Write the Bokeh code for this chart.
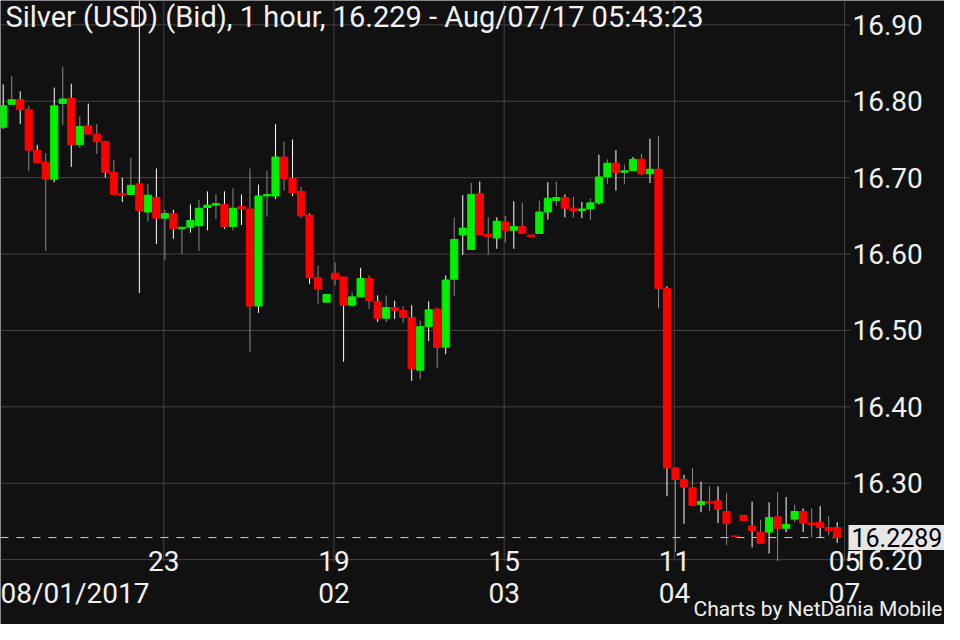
from bokeh.plotting import figure
from bokeh.models import (Range1d, LinearAxis, FixedTicker, NumeralTickFormatter,
                          Label, ColumnDataSource)
from bokeh.embed import file_html
from bokeh.resources import INLINE

# ---------------- data (hourly candles, Silver USD bid) ----------------
opens = [16.766, 16.796, 16.802, 16.789, 16.736, 16.720, 16.698, 16.797, 16.804, 16.743,
         16.768, 16.757, 16.747, 16.707, 16.679, 16.678, 16.692, 16.655, 16.674, 16.647,
         16.653, 16.633, 16.635, 16.637, 16.661, 16.664, 16.665, 16.636, 16.662, 16.659,
         16.532, 16.676, 16.676, 16.727, 16.699, 16.682, 16.651, 16.569, 16.537, 16.575,
         16.570, 16.533, 16.544, 16.568, 16.538, 16.516, 16.530, 16.526, 16.517, 16.448,
         16.505, 16.528, 16.478, 16.567, 16.625, 16.606, 16.679, 16.626, 16.621, 16.642,
         16.631, 16.636, 16.625, 16.627, 16.655, 16.670, 16.674, 16.660, 16.657, 16.659,
         16.667, 16.701, 16.719, 16.707, 16.709, 16.724, 16.705, 16.711, 16.555, 16.320,
         16.305, 16.294, 16.272, 16.276, 16.277, 16.263, 16.231, 16.258, 16.244, 16.236,
         16.236, 16.256, 16.241, 16.253, 16.263, 16.248, 16.249, 16.242, 16.242]
highs = [16.822, 16.833, 16.813, 16.794, 16.743, 16.732, 16.818, 16.845, 16.823, 16.780,
         16.797, 16.770, 16.748, 16.723, 16.700, 16.726, 16.950, 16.692, 16.712, 16.658,
         16.658, 16.636, 16.665, 16.671, 16.682, 16.678, 16.682, 16.686, 16.678, 16.712,
         16.691, 16.709, 16.770, 16.747, 16.750, 16.688, 16.653, 16.585, 16.547, 16.589,
         16.570, 16.550, 16.582, 16.572, 16.546, 16.546, 16.539, 16.532, 16.533, 16.513,
         16.538, 16.530, 16.572, 16.648, 16.677, 16.693, 16.695, 16.648, 16.648, 16.650,
         16.669, 16.667, 16.625, 16.670, 16.694, 16.695, 16.678, 16.675, 16.668, 16.673,
         16.730, 16.724, 16.736, 16.717, 16.727, 16.731, 16.751, 16.755, 16.558, 16.320,
         16.311, 16.320, 16.302, 16.296, 16.296, 16.287, 16.231, 16.258, 16.276, 16.252,
         16.275, 16.288, 16.282, 16.272, 16.267, 16.267, 16.270, 16.257, 16.249]
lows = [16.764, 16.795, 16.770, 16.709, 16.720, 16.604, 16.694, 16.769, 16.714, 16.739,
        16.757, 16.731, 16.700, 16.677, 16.668, 16.677, 16.549, 16.643, 16.613, 16.592,
        16.620, 16.600, 16.628, 16.604, 16.631, 16.646, 16.633, 16.631, 16.638, 16.472,
        16.523, 16.649, 16.672, 16.683, 16.676, 16.647, 16.561, 16.535, 16.537, 16.559,
        16.459, 16.531, 16.544, 16.528, 16.511, 16.511, 16.515, 16.510, 16.434, 16.436,
        16.486, 16.451, 16.469, 16.545, 16.599, 16.606, 16.625, 16.599, 16.607, 16.615,
        16.607, 16.627, 16.623, 16.627, 16.645, 16.663, 16.648, 16.648, 16.647, 16.645,
        16.665, 16.692, 16.683, 16.692, 16.709, 16.703, 16.693, 16.529, 16.283, 16.210,
        16.247, 16.270, 16.262, 16.264, 16.248, 16.219, 16.230, 16.251, 16.216, 16.221,
        16.208, 16.198, 16.236, 16.249, 16.236, 16.229, 16.229, 16.232, 16.222]
closes = [16.794, 16.802, 16.789, 16.736, 16.720, 16.698, 16.794, 16.803, 16.743, 16.767,
          16.757, 16.747, 16.707, 16.678, 16.677, 16.690, 16.657, 16.677, 16.647, 16.653,
          16.633, 16.635, 16.644, 16.660, 16.664, 16.666, 16.636, 16.660, 16.659, 16.532,
          16.676, 16.678, 16.727, 16.699, 16.680, 16.650, 16.569, 16.554, 16.547, 16.567,
          16.533, 16.544, 16.568, 16.539, 16.516, 16.530, 16.526, 16.517, 16.450, 16.505,
          16.527, 16.478, 16.566, 16.619, 16.634, 16.678, 16.625, 16.623, 16.643, 16.631,
          16.636, 16.627, 16.623, 16.655, 16.673, 16.674, 16.660, 16.657, 16.659, 16.667,
          16.701, 16.719, 16.707, 16.709, 16.724, 16.705, 16.711, 16.555, 16.320, 16.305,
          16.295, 16.271, 16.276, 16.274, 16.266, 16.247, 16.230, 16.251, 16.238, 16.221,
          16.255, 16.241, 16.246, 16.263, 16.248, 16.246, 16.242, 16.238, 16.2289]

hour_tick_index = [19, 39, 59, 79, 99]
hour_labels = ["23", "19", "15", "11", "05"]
date_tick_index = [8.5, 39, 59, 79, 99]
date_labels = ["08/01/2017", "02", "03", "04", "07"]
price_ticks = [16.20, 16.30, 16.40, 16.50, 16.60, 16.70, 16.80, 16.90]
last_price = 16.2289
title_text = "Silver (USD) (Bid),  1 hour, 16.229 - Aug/07/17 05:43:23"
credit_text = "Charts by NetDania Mobile"

# ---------------- layout / styling ----------------
BG = "#111111"
GRID = "#444444"
UP = "#00f000"
DOWN = "#ff0000"
TXT = "#f0f0f0"
FONT = "Roboto"
FS = "28px"
TICK_OFF = -0.13
X0, X1 = -0.317, 110.61          # full canvas in candle-index units
Y0, Y1 = 16.1151, 16.9319        # full canvas in price units
CHART_BOTTOM = 16.1975           # lower edge of the candle area
CHART_RIGHT = 99.56              # where grid lines end / price labels start
SPAN_RIGHT = 99.09

n = len(opens)
idx = list(range(n))
top = [max(o, c) for o, c in zip(opens, closes)]
bottom = [min(o, c) for o, c in zip(opens, closes)]
body = [UP if c >= o else DOWN for o, c in zip(opens, closes)]
wick = ["#ffffff" if i % 2 == 0 else "#8a8a8a" for i in idx]
src = ColumnDataSource(dict(x=idx, high=highs, low=lows, top=top, bottom=bottom,
                            body=body, wick=wick))

p = figure(width=944, height=624, output_backend="svg", toolbar_location=None,
           x_axis_location=None, y_axis_location=None,
           x_range=Range1d(X0, X1), y_range=Range1d(Y0, Y1),
           min_border_left=0, min_border_top=0, min_border_right=0, min_border_bottom=0,
           background_fill_color=BG, border_fill_color=BG, outline_line_color=None)
p.grid.visible = False

hour_ticks = [t + TICK_OFF for t in hour_tick_index]
date_ticks = [t + TICK_OFF for t in date_tick_index]

# grid lines (limited to the candle area)
p.segment(x0=hour_ticks, y0=[CHART_BOTTOM] * len(hour_ticks), x1=hour_ticks,
          y1=[Y1] * len(hour_ticks), line_color=GRID, line_width=1)
p.segment(x0=[X0] * len(price_ticks), y0=price_ticks, x1=[CHART_RIGHT] * len(price_ticks),
          y1=price_ticks, line_color=GRID, line_width=1)

# last price dashed line
p.segment(x0=[X0], y0=[last_price], x1=[SPAN_RIGHT], y1=[last_price],
          line_color="#d0d0d0", line_dash="8 8", line_width=1)

# candles
p.segment(x0="x", y0="low", x1="x", y1="high", line_color="wick", line_width=1, source=src)
p.vbar(x="x", width=0.84, top="top", bottom="bottom", fill_color="body",
       line_color="body", line_width=1, source=src)

# price axis (right of candle area)
y_axis = LinearAxis(ticker=FixedTicker(ticks=price_ticks),
                    formatter=NumeralTickFormatter(format="0.00"),
                    fixed_location=CHART_RIGHT, axis_line_color=None,
                    major_tick_line_color=None, major_tick_out=0, major_tick_in=0,
                    minor_tick_line_color=None, major_label_standoff=2,
                    major_label_text_font=FONT, major_label_text_font_size=FS,
                    major_label_text_color=TXT)
p.add_layout(y_axis, "right")

# time axes (hour row and date row)
common = dict(axis_line_color=None, major_tick_line_color=None, major_tick_out=0,
              major_tick_in=0, minor_tick_line_color=None, major_label_text_font=FONT,
              major_label_text_font_size=FS, major_label_text_color=TXT,
              fixed_location=CHART_BOTTOM)
hour_axis = LinearAxis(ticker=FixedTicker(ticks=hour_ticks),
                       major_label_overrides={t: l for t, l in zip(hour_ticks, hour_labels)},
                       major_label_standoff=-11, **common)
date_axis = LinearAxis(ticker=FixedTicker(ticks=date_ticks),
                       major_label_overrides={t: l for t, l in zip(date_ticks, date_labels)},
                       major_label_standoff=15, **common)
p.add_layout(hour_axis, "below")
p.add_layout(date_axis, "below")

# last price tag
p.add_layout(Label(x=848, y=last_price, x_units="screen", y_units="data",
                   text=f"{last_price:.4f}", text_baseline="middle", text_align="left",
                   text_font=FONT, text_font_size="25px", text_color="#000000",
                   background_fill_color="#e6e6e6",
                   padding=dict(left=3, right=10, top=3, bottom=3)))

# title and credit
p.add_layout(Label(x=5, y=608, x_units="screen", y_units="screen", text=title_text,
                   text_baseline="alphabetic", text_font=FONT, text_font_size="29px",
                   text_color=TXT))
p.add_layout(Label(x=942, y=16, x_units="screen", y_units="screen", text=credit_text,
                   text_align="right", text_baseline="alphabetic", text_font=FONT,
                   text_font_size="21px", text_color=TXT))

open("out.html", "w").write(file_html(p, INLINE))
